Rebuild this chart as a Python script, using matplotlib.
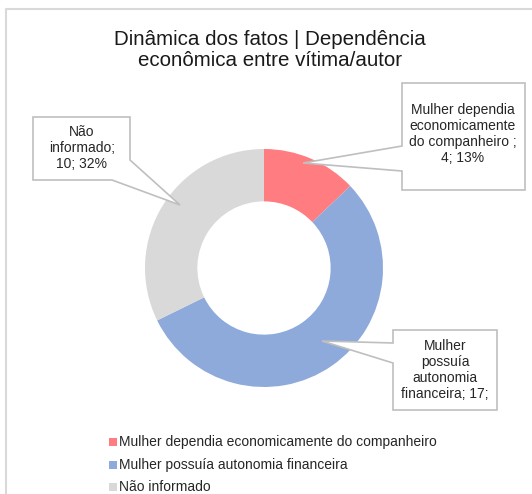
import matplotlib.pyplot as plt
from matplotlib.patches import Polygon

plt.rcParams['font.family'] = ['Liberation Sans', 'DejaVu Sans']

categories = ['Mulher dependia economicamente do companheiro',
              'Mulher possuía autonomia financeira',
              'Não informado']
values = [4, 17, 10]
percents = ['13%', '55%', '32%']
colors = ['#ff7c80', '#8eaadb', '#d9d9d9']

W, H = 532, 494
fig = plt.figure(figsize=(W / 100, H / 100), dpi=100)

# background layer in pixel coords: frame, title, legend
bg = fig.add_axes([0, 0, 1, 1])
bg.set_xlim(0, W)
bg.set_ylim(H, 0)
bg.axis('off')

# chart frame (left and top edges visible)
bg.plot([6, 6, W + 5], [H + 5, 9, 9], color='#d9d9d9', lw=1.5)

bg.text(270, 50, 'Dinâmica dos fatos | Dependência\neconômica entre vítima/autor',
        ha='center', va='center', fontsize=14.8, color='#1a1a1a', linespacing=1.15)

# legend
for i, (cat, c) in enumerate(zip(categories, colors)):
    y = 442 + i * 22.5
    bg.add_patch(plt.Rectangle((109, y - 4), 8, 8, facecolor=c, edgecolor='none'))
    bg.text(119, y, cat, ha='left', va='center', fontsize=10, color='#262626')

# donut
cx, cy, r = 264, 268, 119
ax = fig.add_axes([(cx - r) / W, (H - cy - r) / H, 2 * r / W, 2 * r / H])
ax.pie(values, colors=colors, startangle=90, counterclock=False,
       wedgeprops=dict(width=0.44, edgecolor='none'), radius=1)
ax.set_xlim(-1, 1)
ax.set_ylim(-1, 1)
ax.set_aspect('equal')
ax.axis('off')

# callouts on top of the donut
top = fig.add_axes([0, 0, 1, 1])
top.set_xlim(0, W)
top.set_ylim(H, 0)
top.axis('off')
top.patch.set_alpha(0)

callouts = [
    ([(402, 83), (525, 83), (525, 190), (402, 190), (402, 171), (303, 163), (402, 146)],
     (463, 134), 'Mulher dependia\neconomicamente\ndo companheiro ;\n%d; %s' % (values[0], percents[0])),
    ([(393, 330), (497, 330), (497, 410), (393, 410), (393, 363), (322, 341), (393, 343)],
     (445, 370), 'Mulher\npossuía\nautonomia\nfinanceira; %d;' % values[1]),
    ([(33, 117), (130, 117), (130, 160), (180, 205), (112, 180), (33, 180)],
     (82, 148), 'Não\ninformado;\n%d; %s' % (values[2], percents[2])),
]
for pts, (tx, ty), txt in callouts:
    top.add_patch(Polygon(pts, closed=True, facecolor='white', edgecolor='#bfbfbf',
                          lw=1.2, zorder=5))
    top.text(tx, ty, txt, ha='center', va='center', fontsize=10, color='#262626',
             linespacing=1.2, zorder=6)

fig.savefig('out.png', dpi=100)
